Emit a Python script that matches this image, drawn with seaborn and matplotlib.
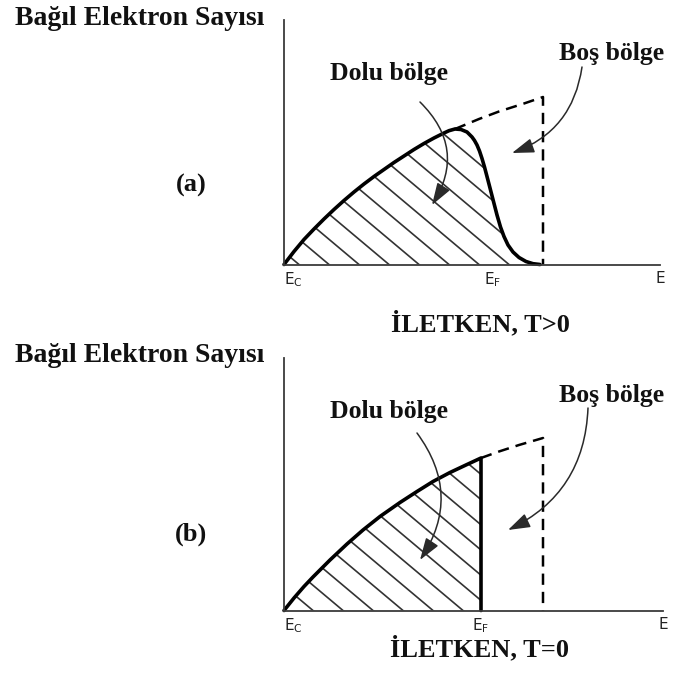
import numpy as np
import matplotlib
matplotlib.use("Agg")
import matplotlib.pyplot as plt
import seaborn as sns
from matplotlib.collections import LineCollection

# ---------------- data ----------------
# panel (a): conductor, T>0  (energy, relative number of electrons)
a_filled_E = [0.00, 0.10, 0.20, 0.30, 0.40, 0.50, 0.60, 0.70, 0.80, 0.90, 1.00,
              1.10, 1.20, 1.30, 1.40, 1.50, 1.60, 1.65, 1.71, 1.77, 1.83, 1.88,
              1.905, 1.93, 1.955, 1.98, 2.005, 2.03, 2.06, 2.095, 2.13, 2.165,
              2.20, 2.24, 2.29, 2.35, 2.42, 2.49, 2.56]
a_filled_N = [0.000, 0.130, 0.250, 0.355, 0.455, 0.550, 0.640, 0.725, 0.805, 0.880, 0.950,
              1.020, 1.085, 1.150, 1.210, 1.265, 1.315, 1.338, 1.355, 1.350, 1.325, 1.275,
              1.240, 1.195, 1.135, 1.060, 0.975, 0.880, 0.765, 0.630, 0.495, 0.375,
              0.280, 0.195, 0.125, 0.070, 0.030, 0.008, 0.000]
a_empty_E = [1.71, 1.95, 2.15, 2.40, 2.59, 2.59]
a_empty_N = [1.355, 1.455, 1.530, 1.610, 1.675, 0.000]
a_EF = 2.09
a_xmax, a_ymax = 3.76, 2.445

# panel (b): conductor, T=0
b_filled_E = [0.00, 0.10, 0.20, 0.29, 0.46, 0.63, 0.79, 0.96, 1.16, 1.33, 1.49, 1.66, 1.83, 1.97, 1.97]
b_filled_N = [0.000, 0.125, 0.240, 0.335, 0.505, 0.665, 0.805, 0.940, 1.080, 1.190, 1.290, 1.380, 1.460, 1.525, 0.000]
b_empty_E = [1.97, 2.15, 2.35, 2.59, 2.59]
b_empty_N = [1.525, 1.590, 1.655, 1.725, 0.000]
b_EF = 1.97
b_xmax, b_ymax = 3.79, 2.525

tick_labels = [r"$\mathsf{E_C}$", r"$\mathsf{E_F}$", r"$\mathsf{E}$"]
ylabel_text = "Bağıl Elektron Sayısı"
panel_labels = ["(a)", "(b)"]
titles = ["İLETKEN, T>0", "İLETKEN, T=0"]
filled_text = "Dolu bölge"
empty_text = "Boş bölge"

# ---------------- figure ----------------
sns.set_theme(style="white")
plt.rcParams["font.family"] = ["Liberation Serif", "DejaVu Serif"]
plt.rcParams["mathtext.fontset"] = "dejavusans"

W, H = 677, 681
fig = plt.figure(figsize=(W / 100, H / 100), dpi=100)
fig.patch.set_facecolor("white")


def px_axes(x0, y0, x1, y1):
    return fig.add_axes([x0 / W, 1 - y1 / H, (x1 - x0) / W, (y1 - y0) / H])


def fpx(x, y):
    return (x / W, 1 - y / H)


AX_COL = "#3a3a3a"
HATCH_COL = "#333333"


def hatch(ax, xs, ys, spacing, offset, xmax):
    poly = ax.fill_between(xs, ys, 0, facecolor="none", edgecolor="none")
    path = poly.get_paths()[0]
    m = 0.84
    segs = []
    for c in np.arange(offset, xmax + 3, spacing):
        segs.append([(c - 3.0, 3.0 * m), (c + 0.2, -0.2 * m)])
    lc = LineCollection(segs, colors=HATCH_COL, linewidths=1.2)
    ax.add_collection(lc)
    lc.set_clip_path(path, ax.transData)


def panel(ax, fE, fN, eE, eN, EF, xmax, ymax, hoff, minor_tick):
    hatch(ax, fE, fN, 0.30, hoff, xmax)
    sns.lineplot(x=fE, y=fN, ax=ax, sort=False, estimator=None, color="black",
                 lw=2.6, clip_on=False, solid_joinstyle="round", solid_capstyle="round")
    sns.lineplot(x=eE, y=eN, ax=ax, sort=False, estimator=None, color="black",
                 lw=1.8, clip_on=False, dashes=(4.5, 2.8))
    ax.set_xlim(0, xmax)
    ax.set_ylim(0, ymax)
    for s in ["top", "right"]:
        ax.spines[s].set_visible(False)
    for s in ["left", "bottom"]:
        ax.spines[s].set_color(AX_COL)
        ax.spines[s].set_linewidth(1.3)
    ax.set_yticks([])
    ax.set_xticks([0, EF, xmax])
    ax.set_xticklabels(tick_labels, fontsize=11, color="#222222")
    ax.get_xticklabels()[0].set_ha("left")
    ax.tick_params(axis="x", which="major", length=0, pad=4)
    if minor_tick:
        ax.set_xticks([EF], minor=True)
        ax.tick_params(axis="x", which="minor", length=12, width=1.3,
                       direction="inout", color=AX_COL)
    ax.set_xlabel("")
    ax.set_ylabel("")
    ax.set_facecolor("none")


ax_a = px_axes(284, 20, 660, 264.5)
panel(ax_a, a_filled_E, a_filled_N, a_empty_E, a_empty_N, a_EF, a_xmax, a_ymax, 0.15, True)
ax_b = px_axes(284, 358, 663, 610.5)
panel(ax_b, b_filled_E, b_filled_N, b_empty_E, b_empty_N, b_EF, b_xmax, b_ymax, 0.29, False)

bold = dict(fontweight="bold", color="#111111")

# y-axis captions
fig.text(*fpx(15, 25), ylabel_text, fontsize=20, ha="left", va="baseline", **bold)
fig.text(*fpx(15, 362), ylabel_text, fontsize=20, ha="left", va="baseline", **bold)
# panel letters
fig.text(*fpx(191, 185), panel_labels[0], fontsize=19, ha="center", va="center", **bold)
fig.text(*fpx(191, 534), panel_labels[1], fontsize=19, ha="center", va="center", **bold)
# titles under panels
fig.text(*fpx(480, 331), titles[0], fontsize=19, ha="center", va="baseline", **bold)
fig.text(*fpx(480, 656), titles[1], fontsize=19, ha="center", va="baseline", **bold)
# region labels
fig.text(*fpx(389, 80), filled_text, fontsize=18.5, ha="center", va="baseline", **bold)
fig.text(*fpx(612, 60), empty_text, fontsize=18.5, ha="center", va="baseline", **bold)
fig.text(*fpx(389, 418), filled_text, fontsize=18.5, ha="center", va="baseline", **bold)
fig.text(*fpx(612, 402), empty_text, fontsize=18.5, ha="center", va="baseline", **bold)

# curved arrows (figure pixel coordinates, origin bottom-left)
arrow_style = "-|>,head_length=0.9,head_width=0.3"


def arrow(start, end, rad):
    fig.add_artist(matplotlib.patches.FancyArrowPatch(
        (start[0], H - start[1]), (end[0], H - end[1]),
        transform=None, arrowstyle=arrow_style, mutation_scale=15,
        connectionstyle=f"arc3,rad={rad}", color="#2a2a2a", lw=1.1,
        shrinkA=0, shrinkB=0))


arrow((420, 102), (432, 205), -0.4)
arrow((582, 67), (512, 153), -0.3)
arrow((417, 433), (420, 560), -0.35)
arrow((588, 408), (508, 530), -0.3)

fig.savefig("out.png", dpi=100, facecolor="white")
